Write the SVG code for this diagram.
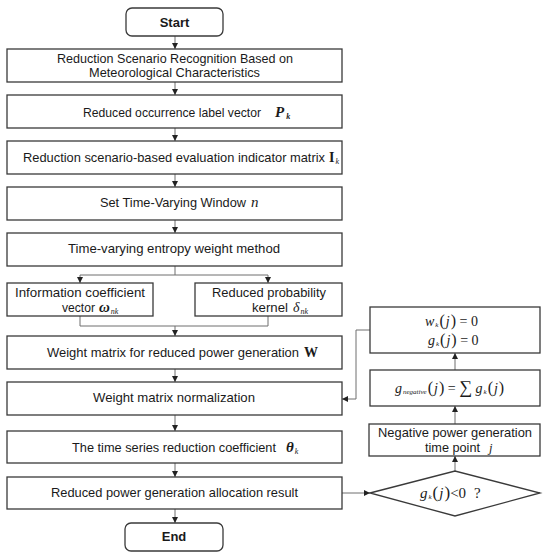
<svg xmlns="http://www.w3.org/2000/svg" width="550" height="560" viewBox="0 0 550 560">
<defs>
<marker id="ah" markerWidth="6" markerHeight="6" refX="6" refY="3" orient="auto" markerUnits="userSpaceOnUse">
<path d="M0,0 L6,3 L0,6 z" fill="#222"/>
</marker>
<style>
.box{fill:#fff;stroke:#3a3a3a;stroke-width:1.3}
.t{font-family:"Liberation Sans",Arial,sans-serif;font-size:13px;fill:#1a1a1a}
.b{font-family:"Liberation Sans",Arial,sans-serif;font-size:13px;font-weight:bold;fill:#1a1a1a}
.m{font-family:"Liberation Serif","Times New Roman",serif;font-style:italic;fill:#1a1a1a}
.mr{font-family:"Liberation Serif","Times New Roman",serif;fill:#1a1a1a}
.c{fill:none;stroke:#6e6e6e;stroke-width:1}
.ca{fill:none;stroke:#6e6e6e;stroke-width:1;marker-end:url(#ah)}
</style>
</defs>
<rect width="550" height="560" fill="#fff"/>

<g id="connectors">
<path class="ca" d="M175,36 V49"/>
<path class="ca" d="M175,82 V95"/>
<path class="ca" d="M175,128 V141"/>
<path class="ca" d="M175,174 V187"/>
<path class="ca" d="M175,220 V233"/>
<path class="c" d="M175,266 V275"/>
<path class="ca" d="M175,275 H80 V283"/>
<path class="ca" d="M175,275 H268 V283"/>
<path class="c" d="M80,316 V326 H268 V316"/>
<path class="ca" d="M175,326 V336"/>
<path class="ca" d="M175,369 V382"/>
<path class="ca" d="M175,415 V431"/>
<path class="ca" d="M175,463 V477"/>
<path class="ca" d="M175,509 V523"/>
<path class="ca" d="M342,493 H370"/>
<path class="ca" d="M455,471 V456"/>
<path class="ca" d="M455,424 V406"/>
<path class="ca" d="M455,370 V353"/>
<path class="ca" d="M370,330 H356 V399 H342"/>
</g>

<g id="start">
<rect class="box" x="126" y="8" width="97" height="28" rx="6"/>
<text class="b" x="174.5" y="27" text-anchor="middle">Start</text>
</g>

<g id="n1">
<rect class="box" x="7" y="49" width="335" height="33"/>
<text class="t" x="57" y="63" textLength="236" lengthAdjust="spacingAndGlyphs">Reduction Scenario Recognition Based on</text>
<text class="t" x="89" y="77" textLength="171" lengthAdjust="spacingAndGlyphs">Meteorological Characteristics</text>
</g>

<g id="n2">
<rect class="box" x="7" y="95" width="335" height="33"/>
<text class="t" x="83" y="117" font-size="12.2" textLength="178" lengthAdjust="spacingAndGlyphs">Reduced occurrence label vector</text>
<text class="m" x="275" y="117" font-size="15" font-weight="bold">P<tspan font-size="8" dx="2" dy="2">k</tspan></text>
</g>

<g id="n3">
<rect class="box" x="7" y="141" width="335" height="33"/>
<text class="t" x="23" y="162" textLength="302" lengthAdjust="spacingAndGlyphs">Reduction scenario-based evaluation indicator matrix</text>
<text class="mr" x="329" y="162" font-size="14" font-weight="bold">I<tspan class="m" font-weight="normal" font-size="8" dx="1" dy="2">k</tspan></text>
</g>

<g id="n4">
<rect class="box" x="7" y="187" width="335" height="33"/>
<text class="t" x="100" y="207" textLength="146" lengthAdjust="spacingAndGlyphs">Set Time-Varying Window</text>
<text class="m" x="251" y="207" font-size="15">n</text>
</g>

<g id="n5">
<rect class="box" x="7" y="233" width="335" height="33"/>
<text class="t" x="68" y="253" textLength="212" lengthAdjust="spacingAndGlyphs">Time-varying entropy weight method</text>
</g>

<g id="n6">
<rect class="box" x="7" y="283" width="146" height="33"/>
<text class="t" x="15" y="297" textLength="130" lengthAdjust="spacingAndGlyphs">Information coefficient</text>
<text class="t" x="62" y="312" textLength="33" lengthAdjust="spacingAndGlyphs">vector</text>
<text class="m" x="99" y="312" font-size="15" font-weight="bold">ω<tspan font-size="8" font-weight="normal" dx="1" dy="2">nk</tspan></text>
</g>

<g id="n7">
<rect class="box" x="195" y="283" width="147" height="33"/>
<text class="t" x="212" y="297" textLength="114" lengthAdjust="spacingAndGlyphs">Reduced probability</text>
<text class="t" x="252" y="312" textLength="36" lengthAdjust="spacingAndGlyphs">kernel</text>
<text class="m" x="293" y="312" font-size="14">δ<tspan font-size="8" dx="1" dy="2">nk</tspan></text>
</g>

<g id="n8">
<rect class="box" x="7" y="336" width="335" height="33"/>
<text class="t" x="47" y="357" textLength="252" lengthAdjust="spacingAndGlyphs">Weight matrix for reduced power generation</text>
<text class="mr" x="304" y="357" font-size="14" font-weight="bold">W</text>
</g>

<g id="n9">
<rect class="box" x="7" y="382" width="335" height="33"/>
<text class="t" x="93" y="402" textLength="162" lengthAdjust="spacingAndGlyphs">Weight matrix normalization</text>
</g>

<g id="n10">
<rect class="box" x="7" y="431" width="335" height="32"/>
<text class="t" x="72" y="452" textLength="204" lengthAdjust="spacingAndGlyphs">The time series reduction coefficient</text>
<text class="m" x="286" y="452" font-size="15" font-weight="bold">θ<tspan font-size="8" font-weight="normal" dx="1" dy="2">k</tspan></text>
</g>

<g id="n11">
<rect class="box" x="7" y="477" width="335" height="32"/>
<text class="t" x="51" y="497" textLength="247" lengthAdjust="spacingAndGlyphs">Reduced power generation allocation result</text>
</g>

<g id="end">
<rect class="box" x="125" y="523" width="98" height="28" rx="6"/>
<text class="b" x="174" y="541" text-anchor="middle">End</text>
</g>

<g id="r1">
<rect class="box" x="370" y="307" width="170" height="46"/>
<text class="m" x="425" y="326" font-size="14">w<tspan font-size="7" dx="1" dy="1">k</tspan><tspan class="mr" font-style="normal" font-size="16" dx="1" dy="-1">(</tspan><tspan font-size="14" dx="1">j</tspan><tspan class="mr" font-style="normal" font-size="16" dx="1">)</tspan><tspan class="mr" font-style="normal" font-size="14"> = 0</tspan></text>
<text class="m" x="428" y="345" font-size="14">g<tspan font-size="7" dx="1" dy="1">k</tspan><tspan class="mr" font-style="normal" font-size="16" dx="1" dy="-1">(</tspan><tspan font-size="14" dx="1">j</tspan><tspan class="mr" font-style="normal" font-size="16" dx="1">)</tspan><tspan class="mr" font-style="normal" font-size="14"> = 0</tspan></text>
</g>

<g id="r2">
<rect class="box" x="370" y="370" width="170" height="36"/>
<text class="m" x="395" y="393" font-size="14">g<tspan font-size="7" dx="1" dy="1">negative</tspan><tspan class="mr" font-style="normal" font-size="16" dx="1" dy="-1">(</tspan><tspan font-size="14" dx="1">j</tspan><tspan class="mr" font-style="normal" font-size="16" dx="1">)</tspan><tspan class="mr" font-style="normal" font-size="14"> = </tspan><tspan class="mr" font-style="normal" font-size="18">∑</tspan><tspan font-size="14"> g</tspan><tspan font-size="7" dx="1" dy="1">k</tspan><tspan class="mr" font-style="normal" font-size="16" dx="1" dy="-1">(</tspan><tspan font-size="14" dx="1">j</tspan><tspan class="mr" font-style="normal" font-size="16" dx="1">)</tspan></text>
</g>

<g id="r3">
<rect class="box" x="369" y="424" width="171" height="32"/>
<text class="t" x="378" y="437" font-size="12.5" textLength="154" lengthAdjust="spacingAndGlyphs">Negative power generation</text>
<text class="t" x="425" y="451.5" font-size="12.5" textLength="55" lengthAdjust="spacingAndGlyphs">time point</text>
<text class="m" x="489" y="451.5" font-size="12.5">j</text>
</g>

<g id="r4">
<polygon class="box" points="370,493 455,471 540,493 455,516"/>
<text class="m" x="420" y="498" font-size="15">g<tspan font-size="7" dx="1" dy="1">k</tspan><tspan class="mr" font-style="normal" font-size="17" dx="1" dy="-1">(</tspan><tspan font-size="15" dx="1">j</tspan><tspan class="mr" font-style="normal" font-size="17" dx="1">)</tspan><tspan class="mr" font-style="normal" font-size="15">&lt;0</tspan><tspan class="mr" font-style="normal" font-size="15" dx="8">?</tspan></text>
</g>
</svg>
